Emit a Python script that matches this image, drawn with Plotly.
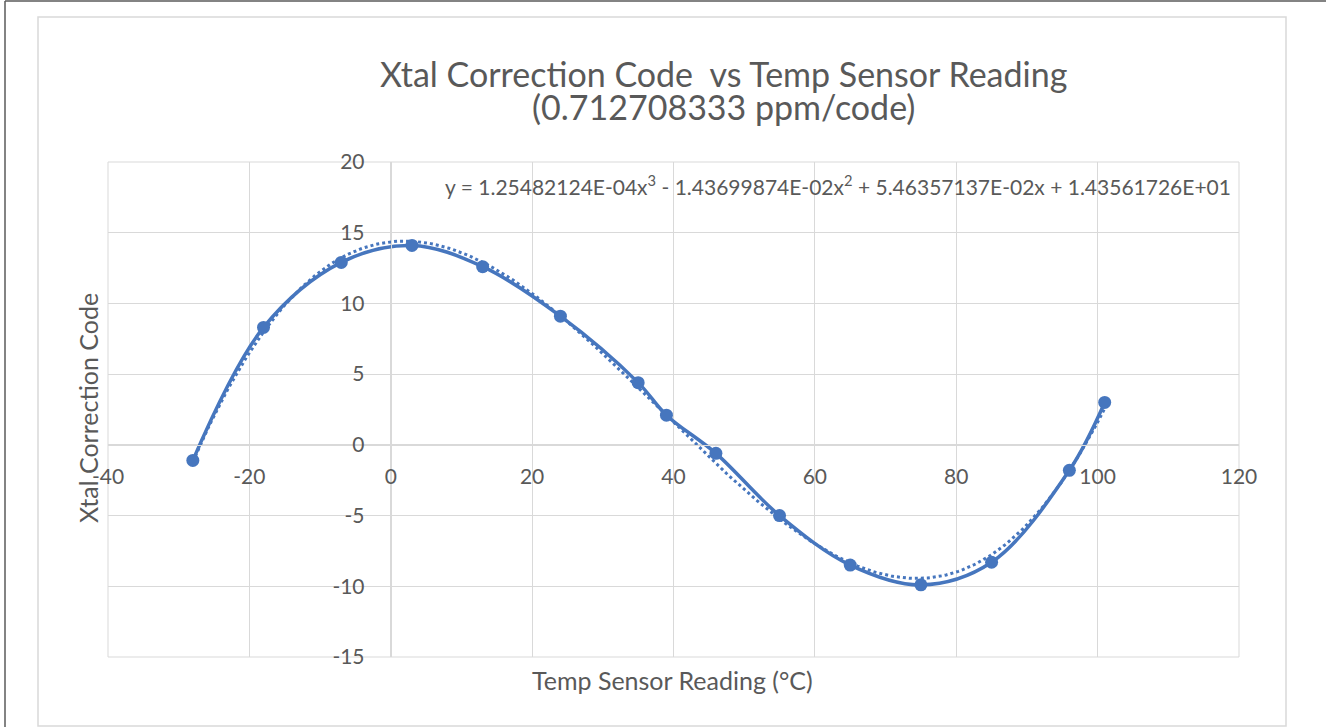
import numpy as np
import plotly.graph_objects as go

# ---- data ----
temp_c = [-28, -18, -7, 3, 13, 24, 35, 39, 46, 55, 65, 75, 85, 96, 101]
code = [-1.1, 8.3, 12.9, 14.1, 12.6, 9.1, 4.4, 2.1, -0.6, -5.0, -8.5, -9.9, -8.3, -1.8, 3.0]
# cubic trendline coefficients as printed on the chart (highest power first)
trend_coeffs = [1.25482124e-04, -1.43699874e-02, 5.46357137e-02, 1.43561726e+01]
x_ticks = [-40, -20, 0, 20, 40, 60, 80, 100, 120]
x_tick_text = ["-40", "-20", "0", "20", "40", "60", "80", "100", "120"]
y_ticks = [-15, -10, -5, 0, 5, 10, 15, 20]
y_tick_text = ["-15", "-10", "-5", "0", "5", "10", "15", "20"]
title_1 = "Xtal Correction Code  vs Temp Sensor Reading"
title_2 = "(0.712708333 ppm/code)"
equation = "y = 1.25482124E-04x<sup>3</sup> - 1.43699874E-02x<sup>2</sup> + 5.46357137E-02x + 1.43561726E+01"
x_title = "Temp Sensor Reading (°C)"
y_title = "Xtal Correction Code"

W, H = 1326, 727
L, R, T, B = 108, 1239, 162, 657
XR = [-40, 120]
YR = [-15, 20]

def px(x):
    return (x - L) / (R - L)

def py(y):
    return (B - y) / (B - T)

trend_x = np.linspace(min(temp_c), max(temp_c), 300)
trend_y = np.polyval(trend_coeffs, trend_x)

BLUE = "#4676BE"
GRID = "#D9D9D9"
TXT = "#595959"
FONT = "Lato"

fig = go.Figure()
fig.add_trace(go.Scatter(
    x=trend_x, y=trend_y, mode="lines",
    line=dict(color=BLUE, width=3, dash="dot"),
    hoverinfo="skip", showlegend=False,
))
fig.add_trace(go.Scatter(
    x=temp_c, y=code, mode="lines+markers",
    line=dict(color=BLUE, width=3.5, shape="spline", smoothing=1),
    marker=dict(color=BLUE, size=13),
    showlegend=False,
))

fig.update_layout(
    width=W, height=H,
    margin=dict(l=L, r=W - R, t=T, b=H - B, pad=0),
    paper_bgcolor="white", plot_bgcolor="white",
    font=dict(family=FONT, color=TXT, size=21),
    xaxis=dict(
        range=XR, tickvals=x_ticks, ticktext=x_tick_text,
        showgrid=True, gridcolor=GRID, gridwidth=1,
        zeroline=False, showline=True, linecolor=GRID, linewidth=1,
        anchor="free", position=(0 - YR[0]) / (YR[1] - YR[0]),
        ticks="", ticklabelstandoff=13, tickfont=dict(size=21, color=TXT),
    ),
    yaxis=dict(
        range=YR, tickvals=y_ticks, ticktext=y_tick_text,
        showgrid=True, gridcolor=GRID, gridwidth=1,
        zeroline=False, showline=True, linecolor=GRID, linewidth=1,
        anchor="free", position=(0 - XR[0]) / (XR[1] - XR[0]),
        ticks="", ticklabelstandoff=22, tickfont=dict(size=21, color=TXT),
    ),
    shapes=[
        dict(type="rect", xref="paper", yref="paper", x0=0, x1=1, y0=0, y1=1,
             line=dict(color=GRID, width=1), layer="below"),
        dict(type="rect", xref="paper", yref="paper", x0=px(38), x1=px(1286), y0=py(726), y1=py(17),
             line=dict(color=GRID, width=1.5), layer="below"),
        dict(type="line", xref="paper", yref="paper", x0=px(5), x1=px(1330), y0=py(1), y1=py(1),
             line=dict(color="#5A5A5A", width=1.5)),
        dict(type="line", xref="paper", yref="paper", x0=px(5), x1=px(5), y0=py(1), y1=py(730),
             line=dict(color="#5A5A5A", width=1.5)),
    ],
    annotations=[
        dict(text=title_1, xref="paper", yref="paper", x=px(723), y=py(74),
             showarrow=False, font=dict(size=34, color=TXT, family=FONT), xanchor="center", yanchor="middle"),
        dict(text=title_2, xref="paper", yref="paper", x=px(723), y=py(107),
             showarrow=False, font=dict(size=34, color=TXT, family=FONT), xanchor="center", yanchor="middle"),
        dict(text=equation, xref="paper", yref="paper", x=px(443), y=py(185),
             showarrow=False, font=dict(size=21, color=TXT, family=FONT), xanchor="left", yanchor="middle"),
        dict(text=x_title, xref="paper", yref="paper", x=px(672), y=py(680),
             showarrow=False, font=dict(size=25, color=TXT, family=FONT), xanchor="center", yanchor="middle"),
        dict(text=y_title, xref="paper", yref="paper", x=px(88), y=py(408),
             showarrow=False, textangle=-90, font=dict(size=25, color=TXT, family=FONT),
             xanchor="center", yanchor="middle"),
    ],
)

fig.write_html(
    "out.html",
    config={"displayModeBar": False},
    post_script="document.body.style.margin='0';document.body.style.overflow='hidden';",
)
